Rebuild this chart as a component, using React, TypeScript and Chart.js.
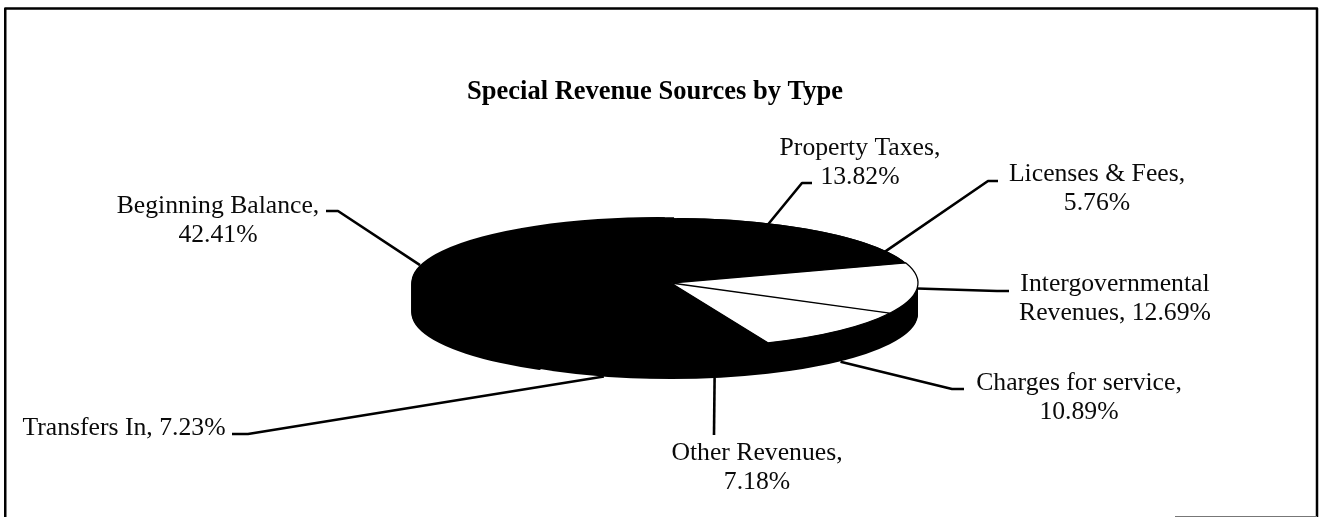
import React, { useEffect, useRef } from "react";
import { Chart, registerables } from "chart.js";

Chart.register(...registerables);

const categories = [
  "Property Taxes",
  "Licenses & Fees",
  "Intergovernmental Revenues",
  "Charges for service",
  "Other Revenues",
  "Transfers In",
  "Beginning Balance",
];
const values = [13.82, 5.76, 12.69, 10.89, 7.18, 7.23, 42.41];
const sliceColors = ["#000000", "#000000", "#ffffff", "#ffffff", "#000000", "#000000", "#000000"];
const sliceOffsets = [0, 0, 0, 0, 0, 0, 13];
const chartTitle = "Special Revenue Sources by Type";

// Presentation only: pie projection and the placement of callouts.
const SERIF = '"Liberation Serif", "Times New Roman", serif';
const RADIUS = 247;
const CENTER_X = 671;
const CENTER_Y = 283;
const SQUASH = 65 / 247;
const DEPTH = 31;
const calloutLayout = [
  { wordsInFirstLine: 2, textX: 860, textY: 148, lineTo: [[802, 183], [812, 183]], onSide: false, nudgeX: -13 },
  { wordsInFirstLine: 3, textX: 1097, textY: 174, lineTo: [[988, 181], [998, 181]], onSide: false, nudgeX: -4 },
  { wordsInFirstLine: 1, textX: 1115, textY: 284, lineTo: [[997, 291], [1009, 291]], onSide: false, nudgeX: 0 },
  { wordsInFirstLine: 3, textX: 1079, textY: 383, lineTo: [[952, 389], [964, 389]], onSide: true, nudgeX: 2 },
  { wordsInFirstLine: 2, textX: 757, textY: 453, lineTo: [[714, 435]], onSide: true, nudgeX: 0 },
  { wordsInFirstLine: 0, textX: 124, textY: 428, lineTo: [[248, 434], [232, 434]], onSide: true, nudgeX: 0 },
  { wordsInFirstLine: 2, textX: 218, textY: 206, lineTo: [[338, 211], [326, 211]], onSide: false, nudgeX: 0 },
];

function project(ctx: CanvasRenderingContext2D, arc: any) {
  ctx.translate(CENTER_X, CENTER_Y);
  ctx.scale(1, SQUASH);
  ctx.translate(-arc.x, -arc.y);
}

function slicePath(ctx: CanvasRenderingContext2D, arc: any) {
  const mid = (arc.startAngle + arc.endAngle) / 2;
  const off = arc.options.offset || 0;
  const x = arc.x + Math.cos(mid) * off;
  const y = arc.y + Math.sin(mid) * off;
  ctx.moveTo(x, y);
  ctx.arc(x, y, arc.outerRadius, arc.startAngle, arc.endAngle);
  ctx.closePath();
}

const piePlugin = {
  id: "flatPie",
  beforeDatasetDraw(chart: any, args: any) {
    const { ctx } = chart;
    const arcs = args.meta.data;
    ctx.save();
    project(ctx, arcs[0]);
    ctx.fillStyle = "#000000";
    for (let d = DEPTH; d >= 0; d--) {
      ctx.save();
      ctx.translate(0, d / SQUASH);
      ctx.beginPath();
      arcs.forEach((arc: any) => {
        slicePath(ctx, arc);
        ctx.moveTo(arc.x + arc.outerRadius, arc.y);
        ctx.arc(arc.x, arc.y, arc.outerRadius, 0, Math.PI * 2);
      });
      ctx.fill("nonzero");
      ctx.restore();
    }
  },
  afterDatasetDraw(chart: any, args: any) {
    const { ctx } = chart;
    const arcs = args.meta.data;
    ctx.beginPath();
    arcs.forEach((arc: any, i: number) => {
      if (sliceColors[i] === "#ffffff") slicePath(ctx, arc);
    });
    ctx.restore();
    ctx.strokeStyle = "#000000";
    ctx.lineWidth = 1.3;
    ctx.lineJoin = "round";
    ctx.stroke();
  },
  afterDraw(chart: any) {
    const { ctx } = chart;
    const arcs = chart.getDatasetMeta(0).data;
    ctx.save();

    // Frame of the scanned figure
    ctx.strokeStyle = "#000000";
    ctx.lineWidth = 2.5;
    ctx.lineCap = "butt";
    ctx.beginPath();
    ctx.moveTo(5.25, 517);
    ctx.lineTo(5.25, 8.5);
    ctx.lineTo(1317, 8.5);
    ctx.lineTo(1317, 517);
    ctx.stroke();
    ctx.strokeStyle = "#777777";
    ctx.lineWidth = 1;
    ctx.beginPath();
    ctx.moveTo(1175, 516.5);
    ctx.lineTo(1317, 516.5);
    ctx.stroke();

    // Callouts, anchored on the slices' own angles
    ctx.font = `25.7px ${SERIF}`;
    ctx.textAlign = "center";
    ctx.textBaseline = "middle";
    arcs.forEach((arc: any, i: number) => {
      const layout = calloutLayout[i];
      const mid = (arc.startAngle + arc.endAngle) / 2;
      const off = arc.options.offset || 0;
      const ax = CENTER_X + Math.cos(mid) * (arc.outerRadius + off) + layout.nudgeX;
      const ay = CENTER_Y + Math.sin(mid) * (arc.outerRadius + off) * SQUASH + (layout.onSide ? DEPTH : 0);
      ctx.strokeStyle = "#000000";
      ctx.lineWidth = 2.6;
      ctx.lineJoin = "round";
      ctx.beginPath();
      ctx.moveTo(ax, ay);
      layout.lineTo.forEach(([x, y]) => ctx.lineTo(x, y));
      ctx.stroke();

      const words = `${categories[i]}, ${values[i].toFixed(2)}%`.split(" ");
      const lines = layout.wordsInFirstLine
        ? [words.slice(0, layout.wordsInFirstLine).join(" "), words.slice(layout.wordsInFirstLine).join(" ")]
        : [words.join(" ")];
      ctx.fillStyle = "#0a0a0a";
      lines.forEach((line, k) => ctx.fillText(line, layout.textX, layout.textY + k * 29));
    });
    ctx.restore();
  },
};

export default function App() {
  const ref = useRef<HTMLCanvasElement>(null);
  useEffect(() => {
    const chart = new Chart(ref.current!, {
      type: "pie",
      data: {
        labels: categories,
        datasets: [
          {
            data: values,
            backgroundColor: sliceColors,
            offset: sliceOffsets,
            borderWidth: 0,
            clip: false,
          } as any,
        ],
      },
      options: {
        responsive: false,
        animation: false,
        rotation: 1.5,
        radius: RADIUS,
        layout: { padding: { right: 9 } },
        plugins: {
          legend: { display: false },
          tooltip: { enabled: false },
          title: {
            display: true,
            text: chartTitle,
            color: "#000000",
            font: { family: SERIF, size: 26.5, weight: "bold" },
            padding: { top: 76, bottom: 0 },
          },
        },
      } as any,
      plugins: [piePlugin],
    });
    return () => chart.destroy();
  }, []);
  return (
    <div style={{ position: "absolute", left: 0, top: 0, width: 1319, height: 517, background: "#ffffff" }}>
      <canvas ref={ref} width={1319} height={517} style={{ display: "block" }} />
    </div>
  );
}
